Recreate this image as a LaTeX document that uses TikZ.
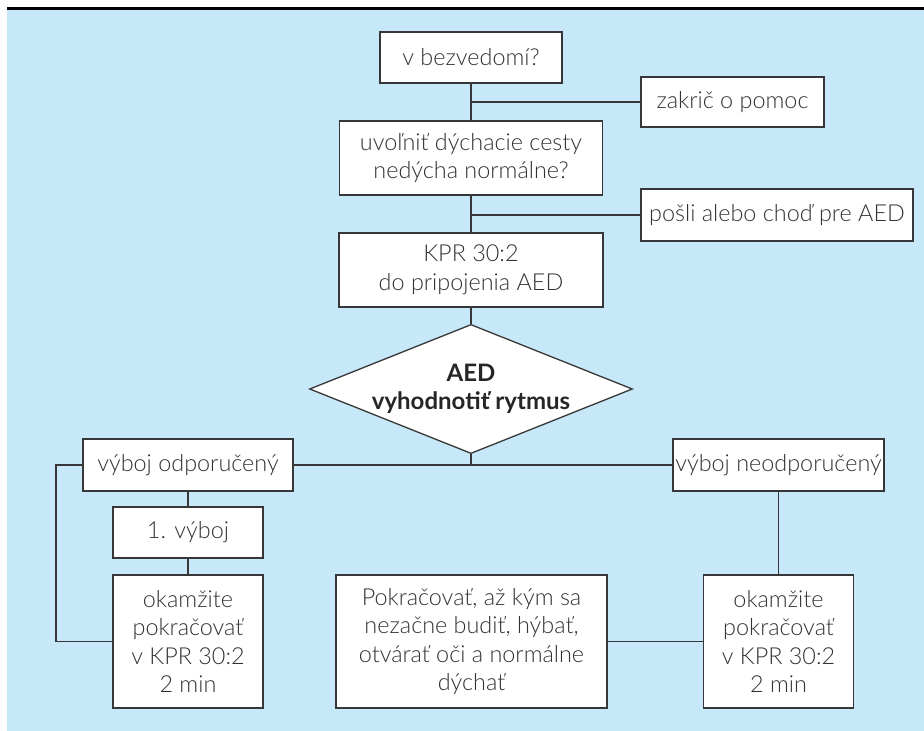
\documentclass[tikz,border=0pt]{standalone}
\usepackage{fontspec}
\setmainfont{Lato}[UprightFont={* Light}, BoldFont={* Bold}]
\usetikzlibrary{shapes.geometric, positioning, calc}
\definecolor{bgblue}{RGB}{199,232,248}
\definecolor{linegray}{RGB}{55,55,55}
\definecolor{textgray}{RGB}{50,50,50}

\begin{document}
\begin{tikzpicture}[x=1pt, y=-1pt,
    box/.style={draw=linegray, line width=1.3pt, fill=white, align=center, inner sep=2pt,
      text=textgray, font=\fontsize{23.4}{28.5}\selectfont},
    decision/.style={box, diamond, aspect=2.5, inner sep=0pt, text=black!85,
      font=\fontsize{24}{28.5}\selectfont\bfseries},
    link/.style={draw=linegray, line width=1.3pt}]
    \useasboundingbox (0,0) rectangle (924,731);
    \fill[bgblue] (7,10) rectangle (924,731);
    \draw[line width=3pt] (7,8.5) -- (924,8.5);

    \node[box, minimum width=182pt, minimum height=51pt] (bezv) at (471,57.5) {v bezvedomí?};
    \node[box, minimum width=183pt, minimum height=50pt] (zakric) at (732.5,102) {zakrič o pomoc};
    \node[box, minimum width=263pt, minimum height=74pt] (uvolnit) at (471,158) {uvoľniť dýchacie cesty\\nedýcha normálne?};
    \node[box, minimum width=272pt, minimum height=52pt] (posli) at (777,215) {pošli alebo choď pre AED};
    \node[box, minimum width=264pt, minimum height=74pt] (kpr) at (471,270) {KPR 30:2\\do pripojenia AED};
    \node[decision, minimum width=313pt, minimum height=122pt] (aed) at (471,389) {AED\\vyhodnotiť rytmus};
    \node[box, minimum width=210pt, minimum height=52pt] (odpor) at (188,465) {výboj odporučený};
    \node[box, minimum width=211pt, minimum height=52pt] (neodpor) at (778.5,465) {výboj neodporučený};
    \node[box, minimum width=150pt, minimum height=51pt] (vyboj) at (188,532.5) {1. výboj};
    \node[box, minimum width=150pt, minimum height=133pt] (okamL) at (188,641.5) {okamžite\\pokračovať\\v KPR 30:2\\2 min};
    \node[box, minimum width=271pt, minimum height=133pt] (pokr) at (471.5,641.5) {Pokračovať, až kým sa\\nezačne budiť, hýbať,\\otvárať oči a normálne\\dýchať};
    \node[box, minimum width=150pt, minimum height=133pt] (okamR) at (778.5,641.5) {okamžite\\pokračovať\\v KPR 30:2\\2 min};
    \coordinate (loop) at (56,465);

    \draw[link] (bezv.south) -- (uvolnit.north);
    \draw[link] (zakric.west) -- (zakric.west -| bezv.south);
    \draw[link] (uvolnit.south) -- (kpr.north);
    \draw[link] (posli.west) -- (posli.west -| uvolnit.south);
    \draw[link] (kpr.south) -- (aed.north);
    \draw[link] (aed.south) -- (aed.south |- odpor.east);
    \draw[link] (odpor.east) -- (neodpor.west);
    \draw[link] (odpor.south) -- (vyboj.north);
    \draw[link] (vyboj.south) -- (okamL.north);
    \draw[link] (odpor.west) -- (loop) -- (loop |- okamL.west) -- (okamL.west);
    \draw[link] (neodpor.south) -- (okamR.north);
    \draw[link] (pokr.east) -- (okamR.west);
\end{tikzpicture}
\end{document}
